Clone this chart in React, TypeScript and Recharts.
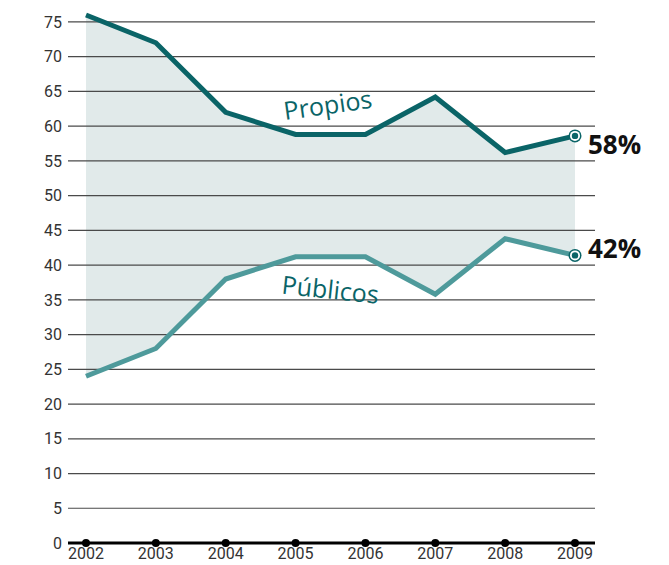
import React from "react";
import {
  ComposedChart,
  Area,
  Line,
  XAxis,
  YAxis,
  ReferenceLine,
  ReferenceDot,
} from "recharts";

const years = [2002, 2003, 2004, 2005, 2006, 2007, 2008, 2009];
const propios = [76, 72, 62, 58.8, 58.8, 64.2, 56.2, 58.6];
const publicos = [24, 28, 38, 41.2, 41.2, 35.8, 43.8, 41.4];
const endLabels = { propios: "58%", publicos: "42%" };
const yTicks = [0, 5, 10, 15, 20, 25, 30, 35, 40, 45, 50, 55, 60, 65, 70, 75];
const gridValues = yTicks.filter((v) => v > 0);
const seriesNames = { propios: "Propios", publicos: "Públicos" };

const data = years.map((y, i) => ({
  year: y,
  propios: propios[i],
  publicos: publicos[i],
  range: [publicos[i], propios[i]],
  zero: 0,
}));

const DARK = "#0a6467";
const LIGHT = "#4e9a9b";
const FONT = "Roboto, 'DejaVu Sans', sans-serif";
const LAST = years.length - 1;

const makeEndDot = (color: string) => (props: any) => {
  const { cx, cy, index } = props;
  if (index !== LAST) return <g key={`d${index}`} />;
  return (
    <g key={`d${index}`}>
      <circle cx={cx} cy={cy} r={6.5} fill={DARK} />
      <circle cx={cx} cy={cy} r={5} fill="#fff" />
      <circle cx={cx} cy={cy} r={3.2} fill={DARK} />
    </g>
  );
};

const makeEndLabel = (text: string, dy: number) => (props: any) => {
  const { x, y, index } = props;
  if (index !== LAST) return null;
  return (
    <text
      x={x + 13}
      y={y + dy}
      fontFamily="'Open Sans', 'DejaVu Sans', sans-serif"
      fontWeight={700}
      fontSize={26}
      fill="#111"
      dominantBaseline="central"
    >
      {text}
    </text>
  );
};

const rotatedText = (text: string, angle: number, color: string) => (props: any) => {
  const { cx, cy } = props;
  return (
    <text
      x={cx}
      y={cy}
      textAnchor="middle"
      dominantBaseline="central"
      transform={`rotate(${angle} ${cx} ${cy})`}
      fontFamily="'Open Sans', sans-serif"
      fontSize={25}
      fill={color}
    >
      {text}
    </text>
  );
};

const XTick = (props: any) => {
  const { x, y, payload } = props;
  return (
    <text
      x={x}
      y={y}
      dy="0.71em"
      textAnchor="middle"
      fontFamily={FONT}
      fontSize={16}
      fill="#333"
    >
      {payload.value}
    </text>
  );
};

export default function App() {
  return (
    <div style={{ position: "absolute", left: 0, top: 0, background: "#fff" }}>
      <ComposedChart
        width={669}
        height={565}
        data={data}
        margin={{ top: 15, right: 74, bottom: 0, left: 0 }}
      >
        <XAxis
          dataKey="year"
          type="number"
          domain={[2002, 2009]}
          ticks={years}
          padding={{ left: 18, right: 20 }}
          axisLine={{ stroke: "#000", strokeWidth: 3 }}
          tickLine={false}
          tickSize={0}
          tickMargin={5}
          height={22}
          tick={<XTick />}
        />
        <YAxis
          domain={[0, 75]}
          ticks={yTicks}
          width={68}
          axisLine={false}
          tickLine={false}
          tickSize={4}
          interval={0}
          tick={{ fontFamily: FONT, fontSize: 16, fill: "#333" }}
        />
        <Area
          dataKey="range"
          stroke="none"
          fill="#e1eaea"
          fillOpacity={1}
          isAnimationActive={false}
        />
        {gridValues.map((v) => (
          <ReferenceLine key={v} y={v} stroke="#4a4a4a" strokeWidth={1.2} />
        ))}
        <Line
          dataKey="propios"
          stroke={DARK}
          strokeWidth={5}
          dot={makeEndDot(DARK)}
          activeDot={false}
          label={makeEndLabel(endLabels.propios, 8)}
          isAnimationActive={false}
        />
        <Line
          dataKey="publicos"
          stroke={LIGHT}
          strokeWidth={5}
          dot={makeEndDot(DARK)}
          activeDot={false}
          label={makeEndLabel(endLabels.publicos, -7)}
          isAnimationActive={false}
        />
        <Line
          dataKey="zero"
          stroke="none"
          dot={{ r: 4, fill: "#000", stroke: "none" }}
          activeDot={false}
          isAnimationActive={false}
        />
        <ReferenceDot
          x={2005.46}
          y={63.2}
          r={0}
          shape={rotatedText(seriesNames.propios, -8, DARK)}
        />
        <ReferenceDot
          x={2005.5}
          y={36.6}
          r={0}
          shape={rotatedText(seriesNames.publicos, 6, DARK)}
        />
      </ComposedChart>
    </div>
  );
}
